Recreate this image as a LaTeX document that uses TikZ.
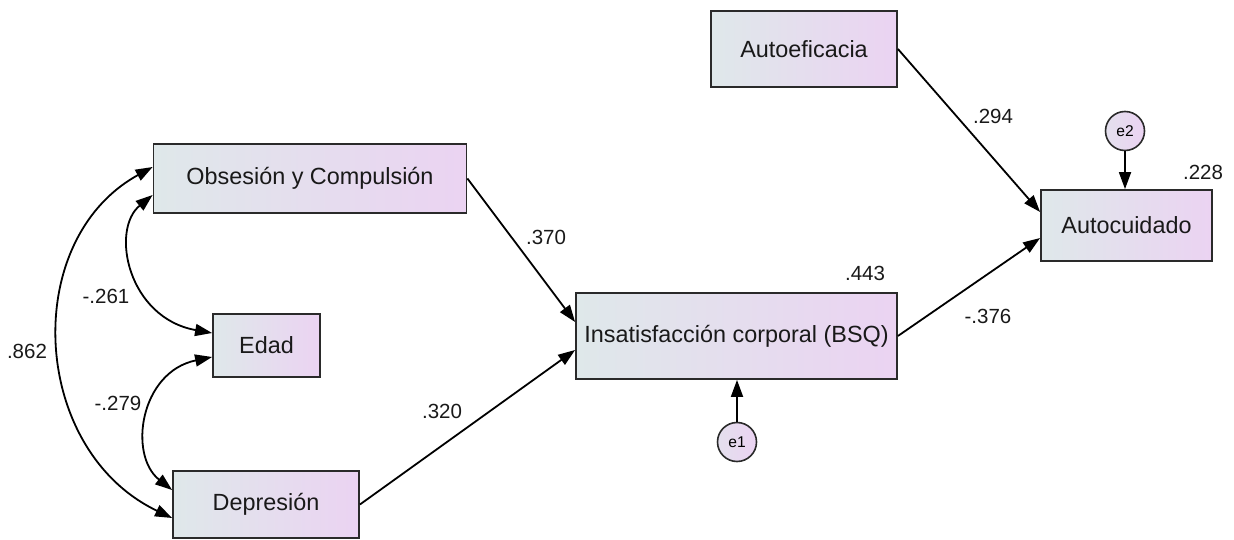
\documentclass[tikz,border=0pt]{standalone}
\usepackage{fontspec}
\setmainfont{Liberation Sans}
\usetikzlibrary{arrows.meta}

\definecolor{boxleft}{HTML}{DFE8EA}
\definecolor{boxright}{HTML}{EBD3F2}
\definecolor{edge}{HTML}{2A2A2A}

\tikzset{
  var/.style={draw=edge, line width=1.8pt, left color=boxleft, right color=boxright,
              inner sep=0pt, font=\fontsize{23.4}{28}\selectfont, text=black!90},
  err/.style={circle, draw=edge, line width=1.6pt, left color=boxleft!60!boxright,
              right color=boxright, minimum size=39pt, inner sep=0pt,
              font=\fontsize{15.6}{18}\selectfont},
  coef/.style={inner sep=0pt, font=\fontsize{20.5}{24}\selectfont, text=black!90},
  regr/.style={line width=1.8pt, -{Triangle[length=17pt,width=12pt]}},
  cov/.style={line width=1.8pt, {Triangle[length=17pt,width=12pt]}-{Triangle[length=17pt,width=12pt]}}
}

\begin{document}
\begin{tikzpicture}[x=1pt, y=-1pt]
  \useasboundingbox (0,0) rectangle (1234,540);

  % observed variables
  \node[var, minimum width=313pt, minimum height=69pt] (obs) at (310,178.5) {Obsesión y Compulsión};
  \node[var, minimum width=107pt, minimum height=63pt] (edad) at (266.5,345.5) {Edad};
  \node[var, minimum width=186pt, minimum height=67pt] (dep) at (266,504.5) {Depresión};
  \node[var, minimum width=321pt, minimum height=86pt] (bsq) at (736.5,336) {Insatisfacción corporal (BSQ)};
  \node[var, minimum width=186pt, minimum height=76pt] (aef) at (804,49) {Autoeficacia};
  \node[var, minimum width=171pt, minimum height=71pt] (auc) at (1126.5,225.5) {Autocuidado};

  % error terms
  \node[err] (e1) at (737,442) {e1};
  \node[err] (e2) at (1125,131) {e2};

  % paths
  \draw[regr] (obs.east) -- ([yshift=14pt]bsq.west);
  \draw[regr] (dep.east) -- ([yshift=-14pt]bsq.west);
  \draw[regr] (bsq.east) -- ([yshift=-12.5pt]auc.west);
  \draw[regr] (aef.east) -- ([yshift=13.5pt]auc.west);
  \draw[regr] (e1) -- (bsq.south -| e1);
  \draw[regr] (e2) -- (auc.north -| e2);

  % covariances
  \draw[cov] ([yshift=11.5pt]obs.west) .. controls (20,240) and (30,450) .. ([yshift=-13.5pt]dep.west);
  \draw[cov] ([yshift=-16.5pt]obs.west) .. controls (110,230) and (128,318) .. ([yshift=12.5pt]edad.west);
  \draw[cov] ([yshift=-11.5pt]edad.west) .. controls (140,372) and (128,455) .. ([yshift=14.5pt]dep.west);

  % estimates
  \node[coef] (c370) at (546,237) {.370};
  \node[coef] (c320) at (442,411) {.320};
  \node[coef] (r443) at (865,273) {.443};
  \node[coef] (c376) at (988,316) {-.376};
  \node[coef] (c294) at (993,116) {.294};
  \node[coef] (r228) at (1203,172) {.228};
  \node[coef] (c261) at (106,296) {-.261};
  \node[coef] (c279) at (118,403) {-.279};
  \node[coef] (c862) at (27,351) {.862};
\end{tikzpicture}
\end{document}
